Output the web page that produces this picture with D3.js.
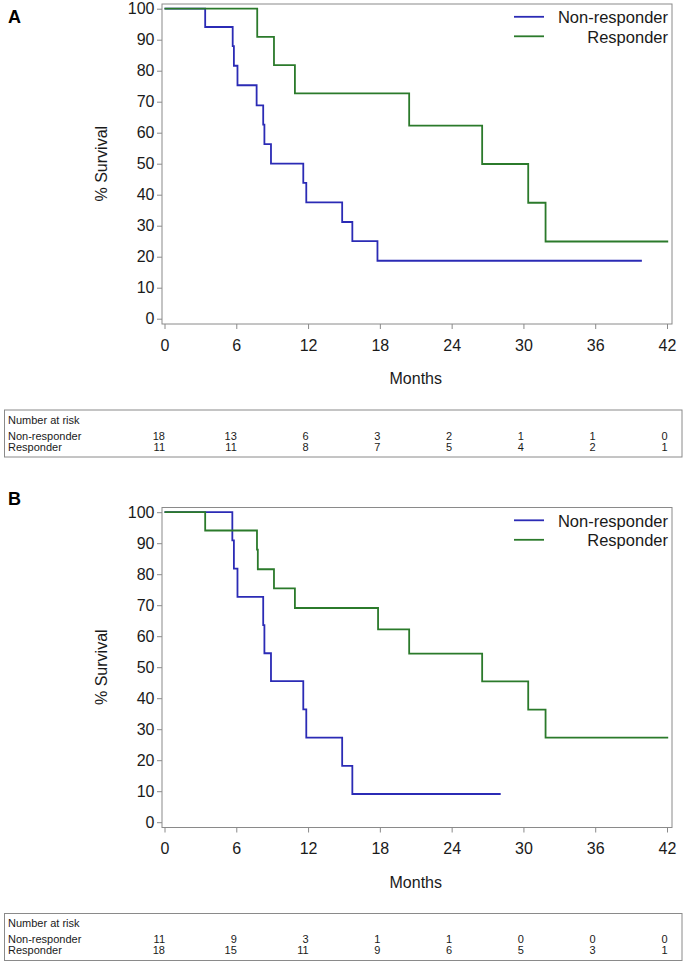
<!DOCTYPE html>
<html>
<head>
<meta charset="utf-8">
<script src="https://cdn.jsdelivr.net/npm/d3@7"></script>
<style>
  html, body { margin: 0; padding: 0; background: #fff; }
  svg { display: block; font-family: "Liberation Sans", Arial, sans-serif; }
</style>
</head>
<body>
<svg id="chart" width="685" height="962"></svg>
<script>
// ---------- DATA ----------
const panelLabels = ["A", "B"];
const seriesNames = ["Non-responder", "Responder"];
const xTicks = [0, 6, 12, 18, 24, 30, 36, 42];
const yTicks = [0, 10, 20, 30, 40, 50, 60, 70, 80, 90, 100];

// Panel A
const nonA_time = [0, 3.4, 5.7, 5.8, 6.1, 7.7, 8.25, 8.35, 8.9, 11.6, 11.85, 14.85, 15.7, 17.8, 39.9];
const nonA_surv = [100, 94.1, 87.9, 81.6, 75.3, 68.8, 62.6, 56.3, 50.0, 43.8, 37.5, 31.2, 25.0, 18.7, 18.7];
const resA_time = [0, 7.75, 9.15, 10.9, 20.45, 26.55, 30.4, 31.85, 42.1];
const resA_surv = [100, 90.9, 81.8, 72.7, 62.3, 49.9, 37.4, 24.9, 24.9];
const riskA_non = [18, 13, 6, 3, 2, 1, 1, 0];
const riskA_res = [11, 11, 8, 7, 5, 4, 2, 1];

// Panel B
const nonB_time = [0, 5.67, 5.8, 6.1, 8.25, 8.35, 8.9, 11.6, 11.85, 14.85, 15.7, 28.1];
const nonB_surv = [100, 90.9, 81.8, 72.7, 63.6, 54.5, 45.5, 36.4, 27.3, 18.2, 9.1, 9.1];
const resB_time = [0, 3.4, 7.73, 7.8, 9.15, 10.9, 17.85, 20.45, 26.55, 30.4, 31.85, 42.1];
const resB_surv = [100, 94.1, 87.9, 81.6, 75.4, 69.1, 62.2, 54.4, 45.4, 36.3, 27.3, 27.3];
const riskB_non = [11, 9, 3, 1, 1, 0, 0, 0];
const riskB_res = [18, 15, 11, 9, 6, 5, 3, 1];

// ---------- STYLE ----------
const colors = ["#2b2bb5", "#2b7a2b"];
const frameColor = "#8a8a8a";
const textColor = "#1a1a1a";

const svg = d3.select("#chart");

function zip(t, s) { return t.map((d, i) => ({ t: d, s: s[i] })); }

function drawPanel(cfg) {
  const g = svg.append("g").attr("transform", `translate(0,${cfg.dy})`);
  const x = d3.scaleLinear().domain([0, 42]).range([164.5, 667]);
  const y = d3.scaleLinear().domain([0, 100]).range([316.7, 6.7]);
  const frame = { x0: 162, x1: 672, y0: 2, y1: 322 };

  // panel letter
  g.append("text").attr("x", 8).attr("y", cfg.letterY)
    .attr("font-size", 18).attr("font-weight", "bold").attr("fill", "#000")
    .text(cfg.label);

  // frame
  g.append("rect").attr("x", frame.x0).attr("y", frame.y0)
    .attr("width", frame.x1 - frame.x0).attr("height", frame.y1 - frame.y0)
    .attr("fill", "none").attr("stroke", frameColor).attr("stroke-width", 1);

  // y axis
  const yAxis = g.append("g").attr("transform", `translate(${frame.x0},0)`)
    .call(d3.axisLeft(y).tickValues(yTicks).tickSize(5).tickPadding(2.5));
  yAxis.select(".domain").remove();
  yAxis.selectAll(".tick line").attr("stroke", frameColor);
  yAxis.selectAll(".tick text").attr("font-size", 16).attr("fill", textColor)
    .attr("font-family", "Liberation Sans, Arial, sans-serif");

  // x axis
  const xAxis = g.append("g").attr("transform", `translate(0,${frame.y1})`)
    .call(d3.axisBottom(x).tickValues(xTicks).tickSize(5).tickPadding(10.5));
  xAxis.select(".domain").remove();
  xAxis.selectAll(".tick line").attr("stroke", frameColor);
  xAxis.selectAll(".tick text").attr("font-size", 16).attr("fill", textColor)
    .attr("font-family", "Liberation Sans, Arial, sans-serif");

  // axis titles
  g.append("text").attr("x", (x(0) + x(42)) / 2).attr("y", 382)
    .attr("text-anchor", "middle").attr("font-size", 16).attr("fill", textColor)
    .text("Months");
  g.append("text")
    .attr("transform", `translate(101,${(y(0) + y(100)) / 2}) rotate(-90)`)
    .attr("text-anchor", "middle").attr("dominant-baseline", "central")
    .attr("font-size", 16).attr("fill", textColor)
    .text("% Survival");

  // curves
  const line = d3.line().x(d => x(d.t)).y(d => y(d.s)).curve(d3.curveStepAfter);
  cfg.series.forEach((s, i) => {
    g.append("path").datum(s).attr("d", line)
      .attr("fill", "none").attr("stroke", colors[i]).attr("stroke-width", 1.8);
  });

  // legend
  seriesNames.forEach((name, i) => {
    const ly = 14.8 + i * 19.5;
    g.append("line").attr("x1", 514).attr("x2", 544).attr("y1", ly).attr("y2", ly)
      .attr("stroke", colors[i]).attr("stroke-width", 1.8);
    g.append("text").attr("x", 668).attr("y", ly + 6.3)
      .attr("text-anchor", "end").attr("font-size", 16.5).attr("fill", textColor)
      .text(name);
  });

  // number at risk table
  g.append("rect").attr("x", 4.5).attr("y", 408).attr("width", 677.5).attr("height", 47)
    .attr("fill", "none").attr("stroke", frameColor).attr("stroke-width", 1);
  g.append("text").attr("x", 8).attr("y", 421.7).attr("font-size", 11)
    .attr("fill", textColor).text("Number at risk");
  const rows = [cfg.riskNon, cfg.riskRes];
  const rowY = [437.5, 448.5];
  rows.forEach((r, i) => {
    g.append("text").attr("x", 8).attr("y", rowY[i]).attr("font-size", 11)
      .attr("fill", textColor).text(seriesNames[i]);
    g.selectAll(null).data(r).enter().append("text")
      .attr("x", (d, j) => x(xTicks[j]) + 0.5).attr("y", rowY[i])
      .attr("text-anchor", "end").attr("font-size", 11).attr("fill", textColor)
      .text(d => d);
  });
}

drawPanel({
  dy: 2, label: panelLabels[0], letterY: 21,
  series: [zip(nonA_time, nonA_surv), zip(resA_time, resA_surv)],
  riskNon: riskA_non, riskRes: riskA_res
});
drawPanel({
  dy: 505.5, label: panelLabels[1], letterY: 505 - 505.5,
  series: [zip(nonB_time, nonB_surv), zip(resB_time, resB_surv)],
  riskNon: riskB_non, riskRes: riskB_res
});
</script>
</body>
</html>
